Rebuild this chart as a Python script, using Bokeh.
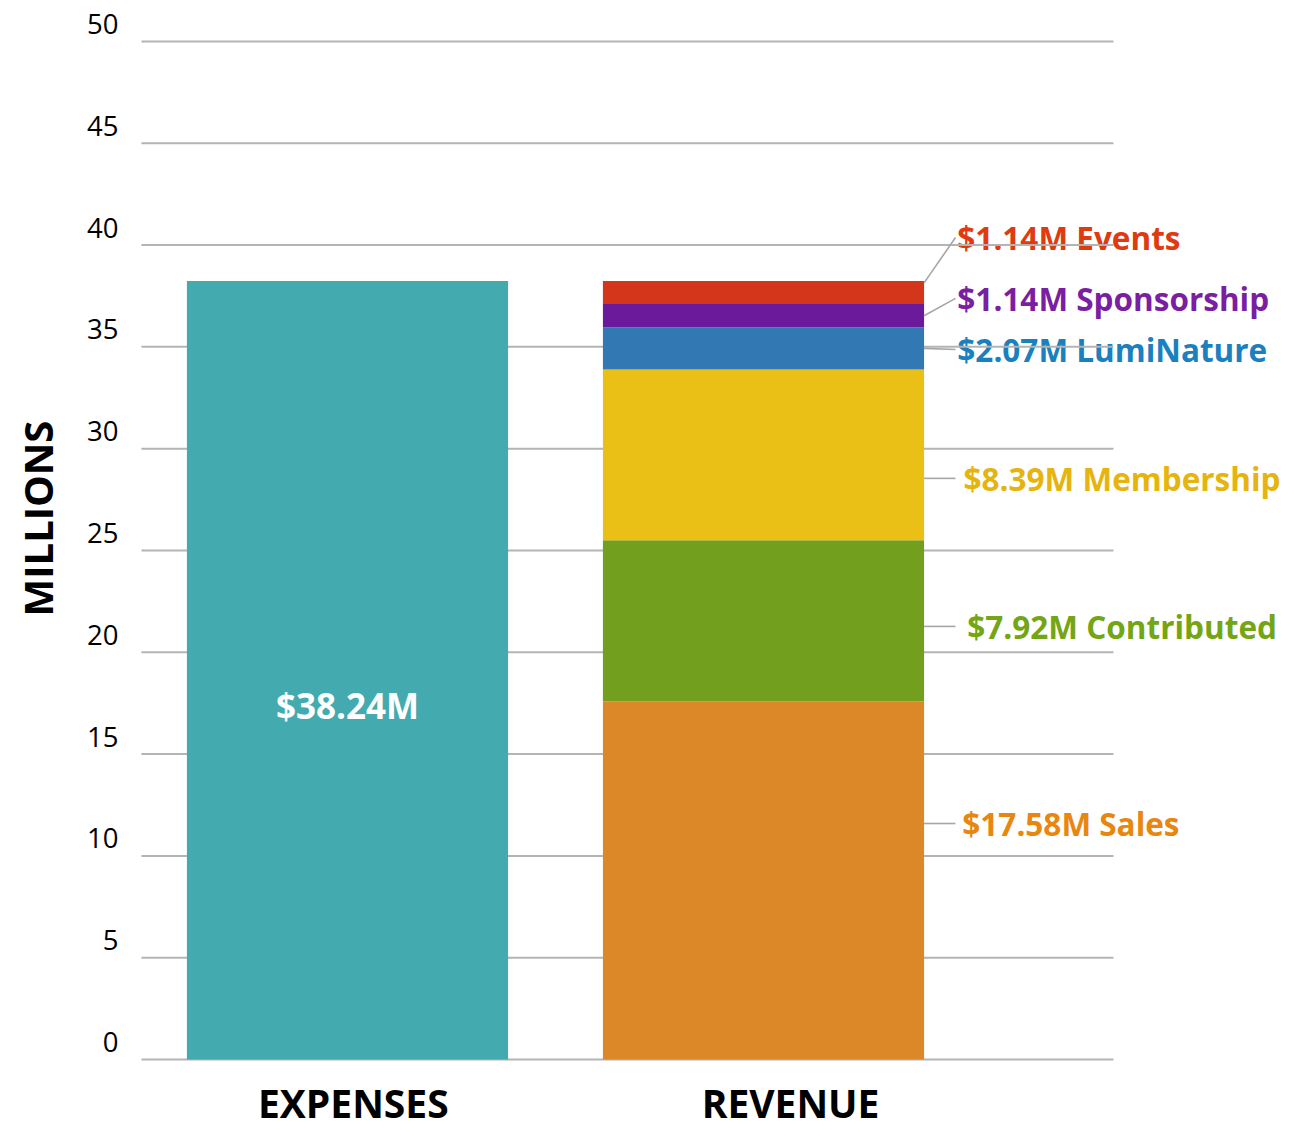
import numpy as np
from bokeh.plotting import figure
from bokeh.models import ColumnDataSource, Range1d
from bokeh.core.properties import value
from bokeh.embed import file_html
from bokeh.resources import INLINE

# ---- data ----
categories = ["EXPENSES", "REVENUE"]
expenses_total = 38.24
revenue_sources = ["Sales", "Contributed", "Membership", "LumiNature", "Sponsorship", "Events"]
revenue_values = [17.58, 7.92, 8.39, 2.07, 1.14, 1.14]
y_ticks = [0, 5, 10, 15, 20, 25, 30, 35, 40, 45, 50]
y_tick_labels = [str(t) for t in y_ticks]

# ---- styles ----
expense_color = "#43abb0"
bar_colors = ["#dc8828", "#72a01e", "#eabf16", "#3279b4", "#6a1a9a", "#d3361a"]
text_colors = ["#e8870f", "#74a514", "#e6b40f", "#1a80be", "#7a1fa2", "#e03a10"]
FONT = "Open Sans"

# label layout (data units)
label_y = [11.59, 21.27, 28.54, 34.87, 37.38, 40.37]
label_x = [1.478, 1.490, 1.481, 1.466, 1.466, 1.466]
cat_label_x = [0.014, 1.065]
bar_w = 0.772
W, H = 1285, 1130

p = figure(x_range=Range1d(-0.8341, 2.2548), y_range=Range1d(-3.487, 52.01),
           width=W, height=H, min_border=0,
           output_backend="svg", toolbar_location=None,
           x_axis_location=None, y_axis_location=None)
p.outline_line_color = None
p.background_fill_color = "white"
p.grid.visible = False

tops = np.cumsum(revenue_values)
bottoms = tops - np.array(revenue_values)
rev_src = ColumnDataSource(dict(x=[1] * len(revenue_values), bottom=bottoms, top=tops,
                                color=bar_colors, tcolor=text_colors,
                                ly=label_y, lx=label_x,
                                text=[f"${v:.2f}M {n}" for v, n in zip(revenue_values, revenue_sources)]))

# revenue labels (drawn first so grid lines pass over them, as in the original)
p.text(x="lx", y="ly", text="text", source=rev_src, text_color="tcolor",
       text_font=value(FONT), text_font_style="bold", text_font_size="31.5px",
       text_align="left", text_baseline="middle")

# horizontal grid lines
p.segment(x0=[-0.4952] * len(y_ticks), y0=y_ticks, x1=[1.8413] * len(y_ticks), y1=y_ticks,
          line_color="#b4b4b4", line_width=2)

# bars
p.vbar(x=[0], bottom=[0], top=[expenses_total], width=bar_w,
       fill_color=expense_color, line_color=None)
p.vbar(x="x", bottom="bottom", top="top", width=bar_w, fill_color="color",
       line_color=None, source=rev_src)

# leader lines
mids = (tops + bottoms) / 2
leader_y0 = [label_y[0], label_y[1], label_y[2], mids[3], mids[4], tops[5] - 0.1]
bar_right = 1 + bar_w / 2
p.segment(x0=[bar_right] * 6, y0=leader_y0, x1=[1.4615] * 6, y1=label_y,
          line_color="#a6a6a6", line_width=1.6)

# expense total label
p.text(x=[0], y=[17.4], text=[f"${expenses_total:.2f}M"], text_color="white",
       text_font=value(FONT), text_font_style="bold", text_font_size="35px",
       text_align="center", text_baseline="middle")

# y tick labels (above grid lines)
p.text(x=[-0.5505] * len(y_ticks), y=[t + 0.86 for t in y_ticks], text=y_tick_labels,
       text_color="black", text_font=value(FONT), text_font_size="27.5px",
       text_align="right", text_baseline="middle")

# axis title
p.text(x=[-0.745], y=[26.57], text=["MILLIONS"], angle=np.pi / 2, text_color="black",
       text_font=value(FONT), text_font_style="bold", text_font_size="40px",
       text_align="center", text_baseline="middle")

# category labels
p.text(x=cat_label_x, y=[-2.12, -2.12], text=categories, text_color="black",
       text_font=value(FONT), text_font_style="bold", text_font_size="39px",
       text_align="center", text_baseline="middle")

open("out.html", "w").write(file_html(p, INLINE))
